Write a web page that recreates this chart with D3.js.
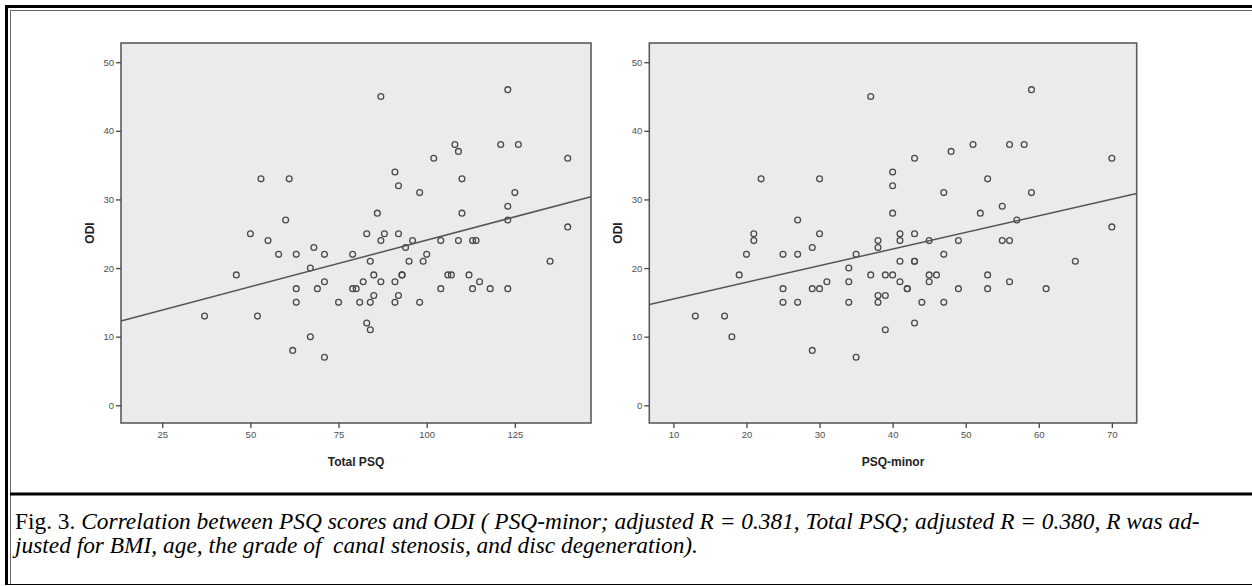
<!DOCTYPE html>
<html lang="en">
  <head>
    <meta charset="utf-8" />
    <title>PSQ scores and ODI</title>
    <script src="https://cdn.jsdelivr.net/npm/d3@7"></script>
    <style>
      body { margin: 0; background: #fff; }
      svg { display: block; }
      .tick-label { font-family: "Liberation Sans Narrow", "Arial Narrow", "Liberation Sans", sans-serif; font-size: 9.5px; fill: #505050; }
      .axis-title { font-family: "Liberation Sans Narrow", "Arial Narrow", "Liberation Sans", sans-serif; font-size: 12px; font-weight: bold; fill: #222; }
      .caption { font-family: "Liberation Serif", "DejaVu Serif", serif; fill: #000; }
    </style>
  </head>
  <body>
    <div id="chart"></div>
    <script type="text/javascript">
      // Total PSQ vs ODI (left panel)
      const totalPsq = [
        87, 53, 61, 91, 92, 98, 60, 86, 50, 55,
        83, 88, 92, 87, 96, 68, 94, 58, 63, 71,
        79, 84, 95, 46, 67, 85, 93, 93, 63, 69,
        71, 79, 80, 82, 87, 91, 85, 92, 63, 75,
        81, 84, 91, 98, 37, 52, 83, 84, 67, 62,
        71, 123, 108, 109, 121, 126, 102, 140, 110, 125,
        123, 110, 123, 140, 104, 109, 113, 114, 100, 99,
        135, 106, 107, 112, 115, 104, 113, 118, 123
      ];
      const totalOdi = [
        45, 33, 33, 34, 32, 31, 27, 28, 25, 24,
        25, 25, 25, 24, 24, 23, 23, 22, 22, 22,
        22, 21, 21, 19, 20, 19, 19, 19, 17, 17,
        18, 17, 17, 18, 18, 18, 16, 16, 15, 15,
        15, 15, 15, 15, 13, 13, 12, 11, 10, 8,
        7, 46, 38, 37, 38, 38, 36, 36, 33, 31,
        29, 28, 27, 26, 24, 24, 24, 24, 22, 21,
        21, 19, 19, 19, 18, 17, 17, 17, 17
      ];
      // PSQ-minor vs ODI (right panel)
      const psqMinor = [
        37, 22, 30, 48, 43, 40, 40, 47, 40, 27,
        21, 21, 30, 41, 41, 43, 38, 38, 45, 29,
        49, 20, 25, 27, 35, 43, 43, 41, 47, 34,
        19, 37, 39, 40, 45, 46, 25, 29, 30, 31,
        34, 41, 42, 42, 45, 49, 25, 27, 34, 38,
        38, 39, 44, 47, 13, 17, 18, 43, 39, 29,
        35, 59, 51, 56, 58, 70, 53, 59, 55, 52,
        57, 70, 55, 56, 65, 53, 56, 53, 61
      ];
      const minorOdi = [
        45, 33, 33, 37, 36, 34, 32, 31, 28, 27,
        25, 24, 25, 25, 24, 25, 24, 23, 24, 23,
        24, 22, 22, 22, 22, 21, 21, 21, 22, 20,
        19, 19, 19, 19, 19, 19, 17, 17, 17, 18,
        18, 18, 17, 17, 18, 17, 15, 15, 15, 16,
        15, 16, 15, 15, 13, 13, 10, 12, 11, 8,
        7, 46, 38, 38, 38, 36, 33, 31, 29, 28,
        27, 26, 24, 24, 21, 19, 18, 17, 17
      ];
      // fitted lines: ODI = a + b * x
      const totalFit = [10.49, 0.1358];
      const minorFit = [13.08, 0.2423];

      const totalTicks = [25, 50, 75, 100, 125];
      const minorTicks = [10, 20, 30, 40, 50, 60, 70];
      const odiTicks = [0, 10, 20, 30, 40, 50];

      const width = 1252, height = 586;
      const svg = d3.select("#chart").append("svg")
        .attr("width", width).attr("height", height);

      // page frame
      const frame = svg.append("g");
      frame.append("line").attr("x1", 5).attr("x2", width).attr("y1", 6.5).attr("y2", 6.5)
        .attr("stroke", "#000").attr("stroke-width", 3);
      frame.append("line").attr("x1", 6.5).attr("x2", 6.5).attr("y1", 5).attr("y2", 585)
        .attr("stroke", "#000").attr("stroke-width", 3);
      frame.append("line").attr("x1", 10.5).attr("x2", width).attr("y1", 10.5).attr("y2", 10.5)
        .attr("stroke", "#666").attr("stroke-width", 1);
      frame.append("line").attr("x1", 10.5).attr("x2", 10.5).attr("y1", 10.5).attr("y2", 585)
        .attr("stroke", "#666").attr("stroke-width", 1);
      frame.append("line").attr("x1", 10).attr("x2", width).attr("y1", 494).attr("y2", 494)
        .attr("stroke", "#000").attr("stroke-width", 3);
      frame.append("line").attr("x1", 5).attr("x2", width).attr("y1", 584.5).attr("y2", 584.5)
        .attr("stroke", "#000").attr("stroke-width", 1);

      const y = d3.scaleLinear().domain([-2.58, 52.8]).range([423, 43]);

      const panels = [
        { xs: totalPsq, ys: totalOdi, fit: totalFit, ticks: totalTicks, title: "Total PSQ",
          domain: [13.3, 146.6], range: [121, 591] },
        { xs: psqMinor, ys: minorOdi, fit: minorFit, ticks: minorTicks, title: "PSQ-minor",
          domain: [6.7, 73.4], range: [649.3, 1136.7] }
      ];

      panels.forEach(p => {
        const x = d3.scaleLinear().domain(p.domain).range(p.range);
        const g = svg.append("g");
        const [x0, x1] = p.range;
        const [yb, yt] = y.range();

        g.append("rect").attr("x", x0).attr("y", yt).attr("width", x1 - x0).attr("height", yb - yt)
          .attr("fill", "#ebebeb").attr("stroke", "#5c5c5c").attr("stroke-width", 1.6);

        // y axis
        const ya = g.append("g").attr("transform", `translate(${x0},0)`)
          .call(d3.axisLeft(y).tickValues(odiTicks).tickSize(5).tickPadding(2));
        // x axis
        const xa = g.append("g").attr("transform", `translate(0,${yb})`)
          .call(d3.axisBottom(x).tickValues(p.ticks).tickSize(5).tickPadding(3));
        [ya, xa].forEach(a => {
          a.select(".domain").remove();
          a.selectAll(".tick line").attr("stroke", "#444").attr("stroke-width", 1.3);
          a.selectAll(".tick text").attr("class", "tick-label").attr("fill", null);
        });

        // points
        g.append("g").selectAll("circle").data(p.xs).join("circle")
          .attr("cx", d => x(d))
          .attr("cy", (d, i) => y(p.ys[i]))
          .attr("r", 2.9)
          .attr("fill", "none")
          .attr("stroke", "#4a4a4a")
          .attr("stroke-width", 1.3);

        // fit line
        const [a, b] = p.fit;
        g.append("line")
          .attr("x1", x(p.domain[0])).attr("y1", y(a + b * p.domain[0]))
          .attr("x2", x(p.domain[1])).attr("y2", y(a + b * p.domain[1]))
          .attr("stroke", "#555").attr("stroke-width", 1.5);

        g.append("text").attr("class", "axis-title")
          .attr("x", (x0 + x1) / 2).attr("y", 466).attr("text-anchor", "middle")
          .text(p.title);
        g.append("text").attr("class", "axis-title")
          .attr("transform", `translate(${x0 - 27},${(yt + yb) / 2}) rotate(-90)`)
          .attr("text-anchor", "middle")
          .text("ODI");
      });

      // caption
      const lines = [
        ["Fig. 3. ", "Correlation between PSQ scores and ODI ( PSQ-minor; adjusted R = 0.381, Total PSQ; adjusted R = 0.380, R was ad-"],
        ["", "justed for BMI, age, the grade of  canal stenosis, and disc degeneration)."]
      ];
      const cap = svg.append("g");
      const capTexts = lines.map((ln, i) => {
        const t = cap.append("text").attr("class", "caption")
          .attr("x", 15).attr("y", 529 + i * 24).attr("font-size", 16)
          .attr("xml:space", "preserve");
        if (ln[0]) t.append("tspan").text(ln[0]);
        t.append("tspan").attr("font-style", "italic").text(ln[1]);
        return t;
      });
      const natural = capTexts[0].node().getComputedTextLength();
      const fs = 16 * (1200 - 15) / natural;
      capTexts.forEach(t => t.attr("font-size", fs));
    </script>
  </body>
</html>
